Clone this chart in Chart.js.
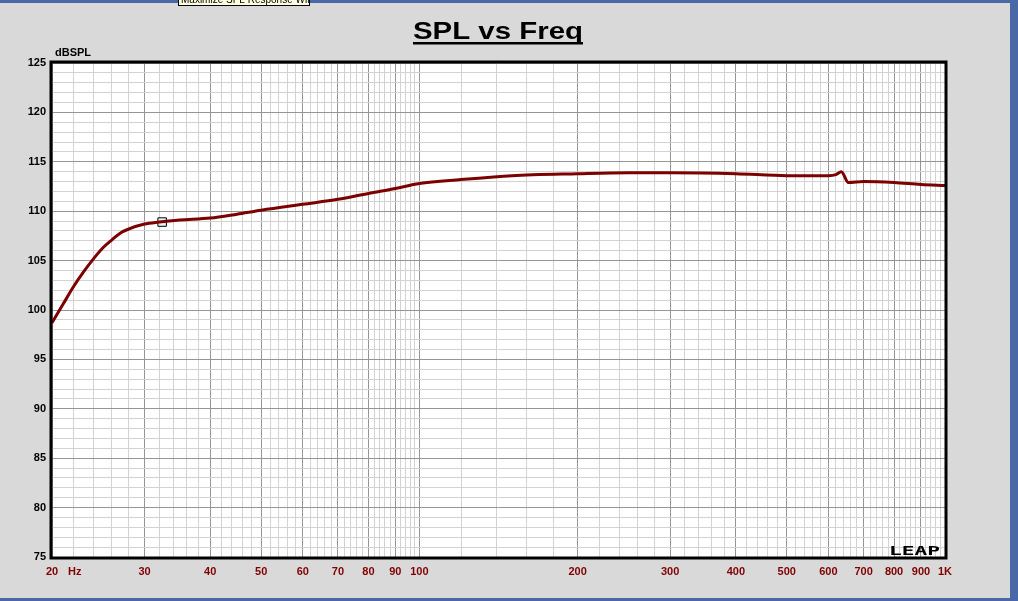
<!DOCTYPE html>
<html>
<head>
<meta charset="utf-8">
<script src="https://cdn.jsdelivr.net/npm/chart.js@4/dist/chart.umd.min.js"></script>
<style>
  html, body { margin: 0; padding: 0; background: #d9d9d9; overflow: hidden; }
  canvas { display: block; }
</style>
</head>
<body>
<canvas id="myChart" width="1018" height="601"></canvas>
<script>
// response curve
const freq = [20, 21, 22, 23, 24, 25, 26, 27, 28, 30, 32, 35, 40, 45, 50, 60, 70, 80, 90, 100,
    120, 150, 200, 250, 300, 400, 500, 600, 620, 635, 655, 700, 800, 900, 1000];
const spl = [98.7, 100.6, 102.4, 103.9, 105.2, 106.3, 107.1, 107.8, 108.2, 108.7, 108.9, 109.1, 109.3, 109.7, 110.1, 110.7, 111.2, 111.8, 112.3, 112.8,
    113.2, 113.6, 113.8, 113.9, 113.9, 113.8, 113.6, 113.6, 113.7, 114.0, 112.9, 113.0, 112.9, 112.7, 112.6];

// cursor marker
const cursorFreq = [32.4];
const cursorSpl = [108.9];

const xTickValues = [20, 30, 40, 50, 60, 70, 80, 90, 100, 200, 300, 400, 500, 600, 700, 800, 900, 1000];
const xTickLabels = ['20', '30', '40', '50', '60', '70', '80', '90', '100', '200', '300', '400', '500', '600', '700', '800', '900', '1K'];
const yTickValues = [75, 80, 85, 90, 95, 100, 105, 110, 115, 120, 125];

// grid lines: every 2 Hz below 100, every 20 Hz above
const xGrid = [];
for (let f = 20; f < 100; f += 2) xGrid.push(f);
for (let f = 100; f <= 1000; f += 20) xGrid.push(f);

const FONT = '"Liberation Sans", Arial, sans-serif';

const frame = {
    id: 'frame',
    beforeDraw(chart) {
        const ctx = chart.ctx;
        const a = chart.chartArea;
        ctx.save();
        ctx.fillStyle = '#d9d9d9';
        ctx.fillRect(0, 0, chart.width, chart.height);
        ctx.fillStyle = '#4a68a6';
        ctx.fillRect(0, 0, chart.width, 3);
        ctx.fillRect(0, 598, chart.width, 3);
        ctx.fillRect(1010, 0, 8, chart.height);
        ctx.fillStyle = '#ffffff';
        ctx.fillRect(a.left, a.top, a.right - a.left, a.bottom - a.top);
        ctx.restore();
    },
    afterDraw(chart) {
        const ctx = chart.ctx;
        const a = chart.chartArea;
        ctx.save();
        // plot frame
        ctx.strokeStyle = '#000';
        ctx.lineWidth = 3;
        ctx.strokeRect(a.left - 1, a.top - 1, a.right - a.left + 2, a.bottom - a.top + 2);

        // title, underlined
        ctx.fillStyle = '#000';
        ctx.font = 'bold 24px ' + FONT;
        const t = 'SPL vs Freq';
        const w = ctx.measureText(t).width;
        ctx.save();
        ctx.translate(498, 39);
        ctx.scale(170 / w, 1);
        ctx.textAlign = 'center';
        ctx.textBaseline = 'alphabetic';
        ctx.fillText(t, 0, 0);
        ctx.restore();
        ctx.fillRect(413, 42, 170, 2.5);

        // axis unit labels
        ctx.font = 'bold 11px ' + FONT;
        ctx.textBaseline = 'middle';
        ctx.textAlign = 'left';
        ctx.fillText('dBSPL', 55, 53);
        ctx.fillStyle = '#800000';
        ctx.fillText('Hz', 68, 572);

        // LEAP logo
        ctx.fillStyle = '#000';
        ctx.font = 'bold 13px "DejaVu Sans Mono", monospace';
        const lw = ctx.measureText('LEAP').width;
        ctx.save();
        ctx.translate(889, 555);
        ctx.scale(51 / lw, 1);
        ctx.textBaseline = 'alphabetic';
        ctx.fillText('LEAP', 0, 0);
        ctx.restore();

        // tooltip remnant at the top
        ctx.save();
        ctx.fillStyle = '#ffffe1';
        ctx.fillRect(178, 0, 132, 5);
        ctx.strokeStyle = '#000';
        ctx.lineWidth = 1;
        ctx.strokeRect(178.5, -5, 131, 10.5);
        ctx.beginPath();
        ctx.rect(179, 0, 130, 5);
        ctx.clip();
        ctx.fillStyle = '#000';
        ctx.font = '10px ' + FONT;
        ctx.textBaseline = 'alphabetic';
        ctx.fillText('Maximize SPL Response Window', 181, 3);
        ctx.restore();
        ctx.restore();
    }
};

const data = {
    datasets: [{
        label: 'SPL',
        data: freq.map((f, i) => ({ x: f, y: spl[i] })),
        borderColor: '#7d0000',
        borderWidth: 3,
        pointRadius: 0,
        cubicInterpolationMode: 'monotone',
        fill: false
    }, {
        label: 'Cursor',
        data: cursorFreq.map((f, i) => ({ x: f, y: cursorSpl[i] })),
        showLine: false,
        pointStyle: 'rect',
        pointRadius: 6,
        backgroundColor: 'rgba(220,245,250,0.7)',
        borderColor: '#000',
        borderWidth: 1
    }]
};

const config = {
    type: 'line',
    data: data,
    options: {
        responsive: false,
        animation: false,
        layout: { padding: { top: 63, right: 73, left: 0, bottom: 0 } },
        plugins: {
            legend: { display: false },
            tooltip: { enabled: false },
            title: { display: false }
        },
        scales: {
            x: {
                type: 'logarithmic',
                min: 20,
                max: 1000,
                afterBuildTicks: (scale) => { scale.ticks = xGrid.map(v => ({ value: v })); },
                afterFit: (scale) => { scale.height = 44; },
                border: { display: false },
                grid: {
                    drawTicks: false,
                    color: (c) => xTickValues.includes(c.tick.value) ? '#959595' : '#d2d2d2'
                },
                ticks: {
                    autoSkip: false,
                    maxRotation: 0,
                    padding: 8,
                    color: '#800000',
                    font: { family: FONT, size: 11, weight: 'bold' },
                    callback: (v) => {
                        const i = xTickValues.indexOf(v);
                        return i >= 0 ? xTickLabels[i] : '';
                    }
                }
            },
            y: {
                min: 75,
                max: 125,
                afterFit: (scale) => { scale.width = 52; },
                border: { display: false },
                grid: {
                    drawTicks: false,
                    color: (c) => yTickValues.includes(c.tick.value) ? '#959595' : '#d2d2d2'
                },
                ticks: {
                    stepSize: 1,
                    autoSkip: false,
                    padding: 6,
                    color: '#000',
                    font: { family: FONT, size: 11, weight: 'bold' },
                    callback: (v) => yTickValues.includes(v) ? String(v) : ''
                }
            }
        }
    },
    plugins: [frame]
};

const myChart = new Chart(document.getElementById('myChart'), config);
</script>
</body>
</html>
